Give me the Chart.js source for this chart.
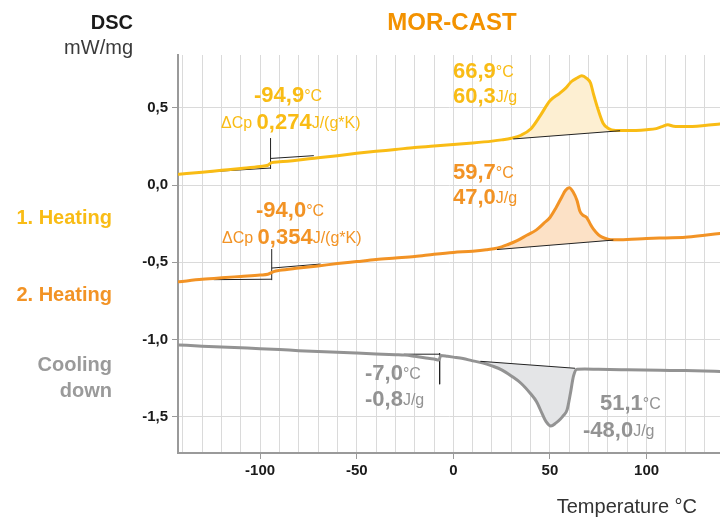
<!DOCTYPE html>
<html>
<head>
<meta charset="utf-8">
<script src="https://cdn.jsdelivr.net/npm/chart.js@4.4.1/dist/chart.umd.min.js"></script>
<style>
  body { margin: 0; background: #fff; }
  #wrap { width: 720px; height: 518px; }
</style>
</head>
<body>
<div id="wrap"><canvas id="myChart" width="720" height="518"></canvas></div>
<script>
// 1. Heating
var heat1Temp = [-142, -130, -120, -110, -100, -96, -94, -90, -80, -70, -60, -50, -40, -30, -20, -10, 0, 10, 20, 25, 30, 35, 40, 45, 50, 55, 58, 61, 64, 66.5, 69, 71, 72.5, 75, 77.5, 80, 84, 90, 100, 105, 108, 111, 114, 120, 130, 138];
var heat1Dsc = [0.070, 0.083, 0.095, 0.107, 0.120, 0.128, 0.145, 0.150, 0.162, 0.177, 0.190, 0.205, 0.218, 0.230, 0.243, 0.253, 0.262, 0.272, 0.284, 0.292, 0.303, 0.322, 0.362, 0.449, 0.545, 0.593, 0.625, 0.668, 0.692, 0.707, 0.690, 0.660, 0.590, 0.485, 0.400, 0.368, 0.353, 0.352, 0.358, 0.365, 0.378, 0.390, 0.380, 0.378, 0.385, 0.395];

// 2. Heating
var heat2Temp = [-142, -130, -120, -110, -100, -96, -93, -90, -80, -70, -60, -50, -40, -30, -20, -10, 0, 10, 17, 23, 28, 33, 38, 43, 47, 50, 53, 56, 58, 60, 62, 64, 65.5, 67, 69, 71, 72.5, 75, 77, 80, 83, 90, 100, 110, 120, 130, 138];
var heat2Dsc = [-0.625, -0.610, -0.600, -0.591, -0.582, -0.577, -0.560, -0.552, -0.537, -0.523, -0.508, -0.495, -0.482, -0.472, -0.462, -0.448, -0.436, -0.428, -0.419, -0.407, -0.386, -0.360, -0.325, -0.290, -0.245, -0.210, -0.150, -0.080, -0.035, -0.017, -0.045, -0.100, -0.170, -0.195, -0.210, -0.255, -0.285, -0.320, -0.337, -0.350, -0.354, -0.352, -0.346, -0.342, -0.338, -0.325, -0.313];

// Cooling down
var coolTemp = [-142, -130, -120, -110, -100, -90, -80, -70, -60, -50, -40, -30, -25, -20, -15, -10, -7.5, -6.5, -3, 0, 5, 10, 15, 20, 25, 30, 35, 40, 43, 46, 48, 50.5, 53, 55.3, 57, 58.8, 60.5, 62.2, 64, 68, 75, 90, 107, 120, 130, 138];
var coolDsc = [-1.034, -1.042, -1.048, -1.053, -1.058, -1.064, -1.071, -1.077, -1.082, -1.087, -1.092, -1.097, -1.100, -1.108, -1.117, -1.125, -1.132, -1.103, -1.108, -1.113, -1.122, -1.137, -1.150, -1.170, -1.195, -1.235, -1.282, -1.350, -1.400, -1.480, -1.530, -1.558, -1.540, -1.515, -1.490, -1.456, -1.353, -1.234, -1.191, -1.190, -1.192, -1.195, -1.198, -1.200, -1.203, -1.206];

// evaluation lines (tangents, markers, peak baselines)
var heat1GlassT = [-130.7, -94.6, -94.6, -94.6, -94.6, -72.2];
var heat1GlassV = [0.082, 0.110, 0.104, 0.304, 0.172, 0.190];
var heat2GlassT = [-124, -94, -94, -94, -94, -68.7];
var heat2GlassV = [-0.612, -0.609, -0.615, -0.414, -0.537, -0.511];
var coolStepT = [-25.7, -7.1, -7.1, -7.1];
var coolStepV = [-1.094, -1.094, -1.088, -1.288];
var heat1BaseT = [31, 86.3];
var heat1BaseV = [0.298, 0.351];
var heat2BaseT = [22.6, 82.8];
var heat2BaseV = [-0.417, -0.356];
var coolBaseT = [14, 63];
var coolBaseV = [-1.140, -1.185];

var xTicks = [-100, -50, 0, 50, 100];

var YEL = "#F9BC15", ORA = "#F29325", GRY = "#939393";
var FONT = "'Liberation Sans', Arial, sans-serif";

function pts(t, v) {
  return t.map(function (x, i) { return { x: x, y: v[i] }; });
}
function segs(t, v) {
  // pairs of points -> separate segments (null breaks)
  var out = [];
  for (var i = 0; i < t.length; i += 2) {
    out.push({ x: t[i], y: v[i] }, { x: t[i + 1], y: v[i + 1] });
    if (i + 2 < t.length) out.push({ x: NaN, y: null });
  }
  return out;
}
function interp(t, v, x) {
  for (var i = 0; i < t.length - 1; i++) {
    if (x >= t[i] && x <= t[i + 1]) {
      return v[i] + (v[i + 1] - v[i]) * (x - t[i]) / (t[i + 1] - t[i]);
    }
  }
  return v[v.length - 1];
}

var peaks = [
  { t: heat1Temp, v: heat1Dsc, bt: heat1BaseT, bv: heat1BaseV, color: "#FDEFD2" },
  { t: heat2Temp, v: heat2Dsc, bt: heat2BaseT, bv: heat2BaseV, color: "#FCE1C6" },
  { t: coolTemp, v: coolDsc, bt: coolBaseT, bv: coolBaseV, color: "#E4E5E7" }
];

var peakFill = {
  id: "peakFill",
  beforeDatasetsDraw: function (chart) {
    var c = chart.ctx, xs = chart.scales.x, ys = chart.scales.y;
    c.save();
    peaks.forEach(function (p) {
      var x0 = p.bt[0], x1 = p.bt[1];
      c.beginPath();
      c.moveTo(xs.getPixelForValue(x0), ys.getPixelForValue(interp(p.t, p.v, x0)));
      p.t.forEach(function (x, i) {
        if (x > x0 && x < x1) c.lineTo(xs.getPixelForValue(x), ys.getPixelForValue(p.v[i]));
      });
      c.lineTo(xs.getPixelForValue(x1), ys.getPixelForValue(interp(p.t, p.v, x1)));
      c.lineTo(xs.getPixelForValue(x1), ys.getPixelForValue(p.bv[1]));
      c.lineTo(xs.getPixelForValue(x0), ys.getPixelForValue(p.bv[0]));
      c.closePath();
      c.fillStyle = p.color;
      c.fill();
    });
    c.restore();
  }
};

// text labels: [x, y, parts]
var B = "bold 22px " + FONT, N = "16px " + FONT;
var notes = [
  [254, 96, [["-94,9", B, YEL], ["°C", N, YEL]]],
  [221, 123, [["ΔCp ", N, YEL], ["0,274", B, YEL], ["J/(g*K)", N, YEL]]],
  [453, 72, [["66,9", B, YEL], ["°C", N, YEL]]],
  [453, 97, [["60,3", B, YEL], ["J/g", N, YEL]]],
  [256, 211, [["-94,0", B, ORA], ["°C", N, ORA]]],
  [222, 238, [["ΔCp ", N, ORA], ["0,354", B, ORA], ["J/(g*K)", N, ORA]]],
  [453, 173, [["59,7", B, ORA], ["°C", N, ORA]]],
  [453, 198, [["47,0", B, ORA], ["J/g", N, ORA]]],
  [365, 374, [["-7,0", B, GRY], ["°C", N, GRY]]],
  [365, 400, [["-0,8", B, GRY], ["J/g", N, GRY]]],
  [600, 404, [["51,1", B, GRY], ["°C", N, GRY]]],
  [583, 431, [["-48,0", B, GRY], ["J/g", N, GRY]]]
];

var textPlugin = {
  id: "texts",
  afterDraw: function (chart) {
    var c = chart.ctx;
    c.save();
    c.textBaseline = "middle";
    notes.forEach(function (n) {
      var x = n[0];
      c.textAlign = "left";
      n[2].forEach(function (p) {
        c.font = p[1];
        c.fillStyle = p[2];
        var dy = p[1] === N ? 1 : 0;
        c.fillText(p[0], x, n[1] + dy);
        x += c.measureText(p[0]).width;
      });
    });

    c.textAlign = "center";
    c.font = "bold 24px " + FONT;
    c.fillStyle = "#F39200";
    c.fillText("MOR-CAST", 452, 23);

    c.textAlign = "right";
    c.font = "bold 20px " + FONT;
    c.fillStyle = "#1a1a1a";
    c.fillText("DSC", 133, 23);
    c.font = "20px " + FONT;
    c.fillStyle = "#3a3a3a";
    c.fillText("mW/mg", 133, 48);

    c.font = "bold 20px " + FONT;
    c.fillStyle = YEL;
    c.fillText("1. Heating", 112, 218);
    c.fillStyle = ORA;
    c.fillText("2. Heating", 112, 295);
    c.fillStyle = "#9a9a9a";
    c.fillText("Cooling", 112, 365);
    c.fillText("down", 112, 391);

    c.font = "20px " + FONT;
    c.fillStyle = "#333";
    c.fillText("Temperature °C", 697, 507);
    c.restore();
  }
};

function curve(label, data, color) {
  return {
    label: label, data: data, borderColor: color, borderWidth: 3,
    showLine: true, pointRadius: 0, fill: false,
    cubicInterpolationMode: "monotone", borderJoinStyle: "round", borderCapStyle: "round"
  };
}
function thin(label, data) {
  return {
    label: label, data: data, borderColor: "#222", borderWidth: 1,
    showLine: true, pointRadius: 0, fill: false, spanGaps: false
  };
}

document.addEventListener("DOMContentLoaded", function () {
  var ctx = document.getElementById("myChart").getContext("2d");

  var data = {
    datasets: [
      thin("base1", pts(heat1BaseT, heat1BaseV)),
      thin("base2", pts(heat2BaseT, heat2BaseV)),
      thin("base3", pts(coolBaseT, coolBaseV)),
      curve("1. Heating", pts(heat1Temp, heat1Dsc), YEL),
      curve("2. Heating", pts(heat2Temp, heat2Dsc), ORA),
      curve("Cooling down", pts(coolTemp, coolDsc), GRY),
      thin("glass1", segs(heat1GlassT, heat1GlassV)),
      thin("glass2", segs(heat2GlassT, heat2GlassV)),
      thin("step3", segs(coolStepT, coolStepV))
    ]
  };

  var options = {
    responsive: false,
    animation: false,
    layout: { padding: { top: 55, left: 0, right: 0, bottom: 0 } },
    plugins: { legend: { display: false }, tooltip: { enabled: false } },
    scales: {
      x: {
        type: "linear",
        min: -142.5,
        max: 138,
        afterFit: function (s) { s.height = 65; },
        border: { color: "#9a9a9a", width: 2 },
        grid: {
          color: "#dadada",
          lineWidth: 1,
          tickLength: 6,
          tickColor: function (c) { return xTicks.indexOf(c.tick.value) >= 0 ? "#9a9a9a" : "rgba(0,0,0,0)"; }
        },
        ticks: {
          stepSize: 10,
          includeBounds: false,
          autoSkip: false,
          maxRotation: 0,
          padding: 3,
          color: "#1a1a1a",
          font: { family: FONT, size: 15, weight: "bold" },
          callback: function (v) { return xTicks.indexOf(v) >= 0 ? String(v) : ""; }
        }
      },
      y: {
        type: "linear",
        min: -1.733,
        max: 0.841,
        afterFit: function (s) { s.width = 178; },
        border: { color: "#9a9a9a", width: 2 },
        grid: { color: "#dadada", lineWidth: 1, tickLength: 6, tickColor: "#9a9a9a" },
        ticks: {
          stepSize: 0.5,
          includeBounds: false,
          padding: 4,
          color: "#1a1a1a",
          font: { family: FONT, size: 15, weight: "bold" },
          callback: function (v) { return v.toFixed(1).replace(".", ","); }
        }
      }
    }
  };

  var myChart = new Chart(ctx, {
    type: "scatter",
    data: data,
    options: options,
    plugins: [peakFill, textPlugin]
  });
});
</script>
</body>
</html>
